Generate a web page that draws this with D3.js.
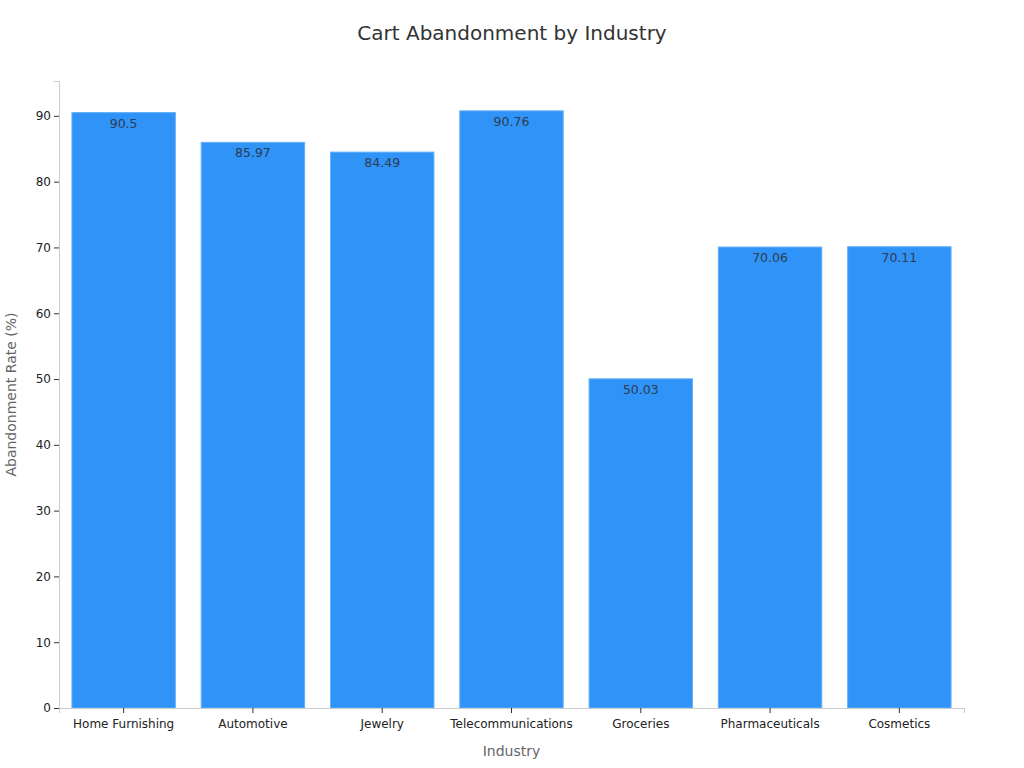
<!DOCTYPE html>
<html>
<head>
<meta charset="utf-8">
<script src="https://cdn.jsdelivr.net/npm/d3@7"></script>
<style>
  body { margin: 0; background: #fff; }
  svg, svg text { font-family: "DejaVu Sans", sans-serif; }
</style>
</head>
<body>
<div id="chart"></div>
<script>
// chart data
let industries = ['Home Furnishing', 'Automotive', 'Jewelry', 'Telecommunications',
    'Groceries', 'Pharmaceuticals', 'Cosmetics'];
let rates = [90.5, 85.97, 84.49, 90.76, 50.03, 70.06, 70.11];
let yTicks = [0, 10, 20, 30, 40, 50, 60, 70, 80, 90];

let font = '"DejaVu Sans", sans-serif';
let width = 1024;
let height = 768;
let margin = { top: 81, right: 60, bottom: 60, left: 59 };

let svg = d3.select('#chart')
    .append('svg')
    .attr('width', width)
    .attr('height', height)
    .attr('font-family', font);

let x = d3.scaleBand()
    .domain(industries)
    .range([margin.left, width - margin.right])
    .paddingInner(0.2)
    .paddingOuter(0.1);

let y = d3.scaleLinear()
    .domain([0, d3.max(rates) * 1.05])
    .range([height - margin.bottom, margin.top]);

// title
svg.append('text')
    .attr('x', 512)
    .attr('y', 40)
    .attr('text-anchor', 'middle')
    .attr('font-family', font)
    .attr('font-size', 20)
    .attr('fill', '#333')
    .text('Cart Abandonment by Industry');

// bars
svg.append('g')
    .selectAll('rect')
    .data(rates)
    .join('rect')
    .attr('x', (d, i) => x(industries[i]))
    .attr('y', d => y(d))
    .attr('width', x.bandwidth())
    .attr('height', d => y(0) - y(d))
    .attr('fill', '#2f93f7')
    .attr('stroke', '#64b0f9')
    .attr('stroke-width', 1);

// value labels
svg.append('g')
    .selectAll('text')
    .data(rates)
    .join('text')
    .attr('x', (d, i) => x(industries[i]) + x.bandwidth() / 2)
    .attr('y', d => y(d) + 15)
    .attr('text-anchor', 'middle')
    .attr('font-family', font)
    .attr('font-size', 12.5)
    .attr('fill', '#2e3d52')
    .text(d => d);

// x axis
let xAxis = svg.append('g')
    .attr('transform', 'translate(0,' + y(0) + ')')
    .call(d3.axisBottom(x).tickSizeOuter(0).tickSize(5));
xAxis.attr('font-family', font);
xAxis.select('.domain').attr('stroke', '#ccc');
xAxis.selectAll('.tick line').attr('stroke', '#333');
xAxis.selectAll('.tick text')
    .attr('font-size', 12)
    .attr('fill', '#222')
    .attr('y', 11);

// y axis
let yAxis = svg.append('g')
    .attr('transform', 'translate(' + margin.left + ',0)')
    .call(d3.axisLeft(y).tickValues(yTicks).tickSizeOuter(0).tickSize(5));
yAxis.attr('font-family', font);
yAxis.select('.domain').attr('stroke', '#ccc');
yAxis.selectAll('.tick line').attr('stroke', '#333');
yAxis.selectAll('.tick text')
    .attr('font-size', 12)
    .attr('fill', '#222')
    .attr('x', -8);

// axis titles
svg.append('text')
    .attr('x', (margin.left + width - margin.right) / 2)
    .attr('y', 756)
    .attr('text-anchor', 'middle')
    .attr('font-family', font)
    .attr('font-size', 14)
    .attr('fill', '#666')
    .text('Industry');

svg.append('text')
    .attr('transform', 'translate(16,' + (margin.top + height - margin.bottom) / 2 + ') rotate(-90)')
    .attr('text-anchor', 'middle')
    .attr('font-family', font)
    .attr('font-size', 14)
    .attr('fill', '#666')
    .text('Abandonment Rate (%)');
</script>
</body>
</html>
